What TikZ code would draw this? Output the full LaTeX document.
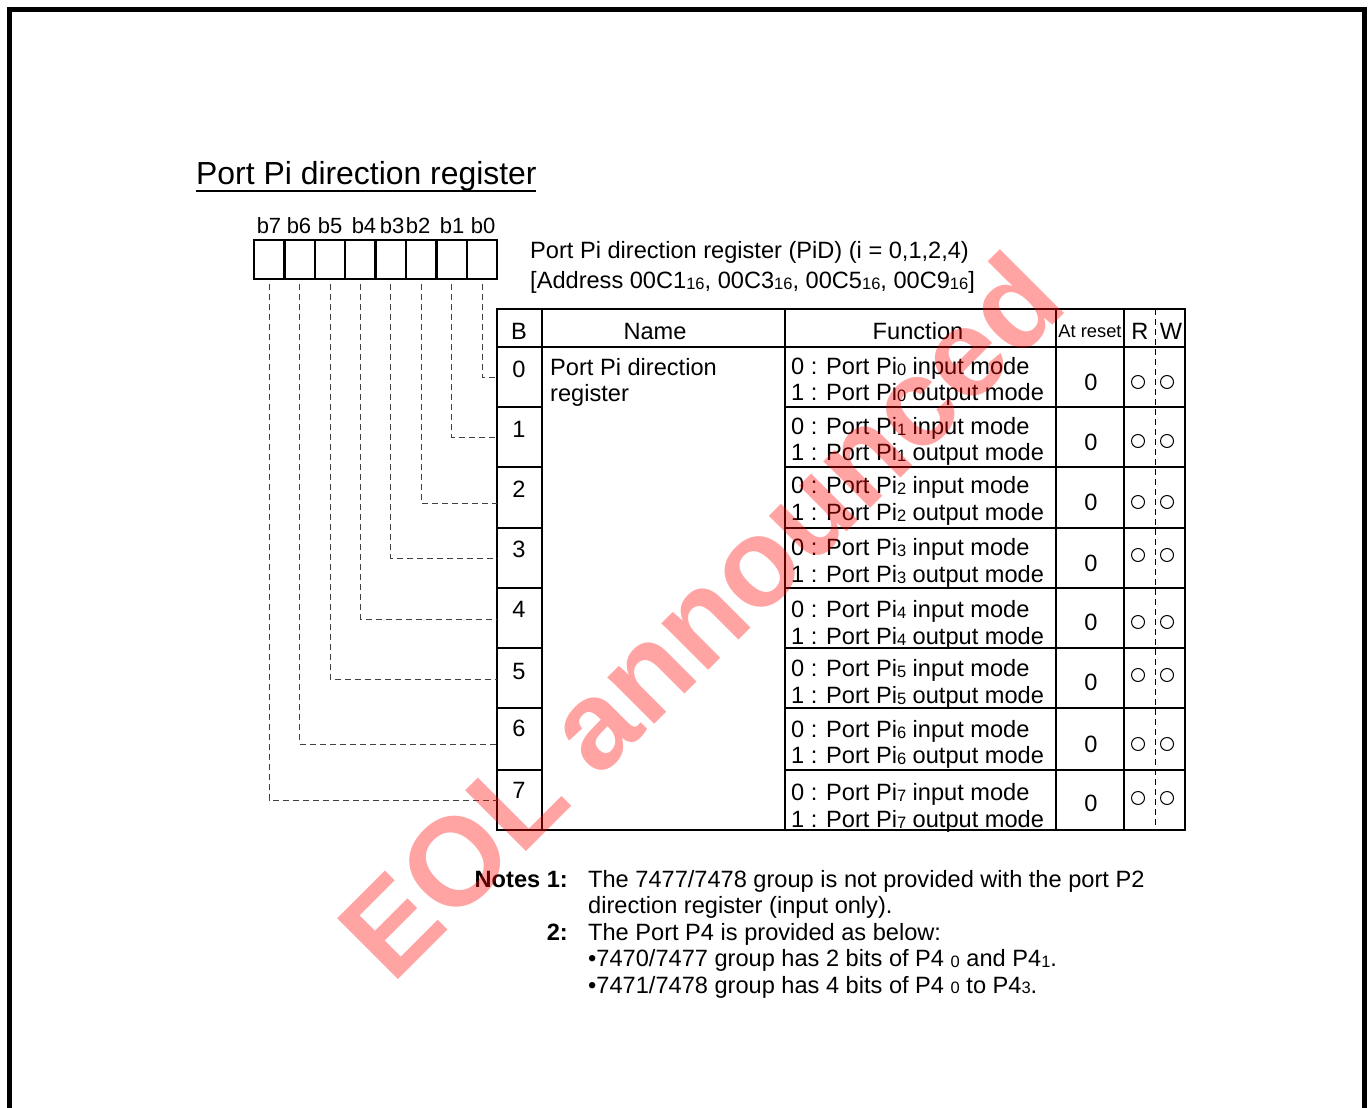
\documentclass[tikz,border=0pt]{standalone}
\usepackage{fontspec}
\setmainfont{Liberation Sans}
\newcommand\subd[1]{\raisebox{-0.5pt}{\fontsize{16.5}{16.5}\selectfont #1}}
\begin{document}
\begin{tikzpicture}[x=1pt,y=-1pt,
  txt/.style={anchor=base west,inner sep=0pt,font=\fontsize{23.6}{26}\selectfont},
  ctxt/.style={anchor=center,inner sep=0pt,font=\fontsize{23.6}{26}\selectfont},
  bitbox/.style={draw,line width=2.3pt,minimum width=30.4pt,minimum height=39pt,inner sep=0pt},
  bitlab/.style={anchor=center,inner sep=0pt,font=\fontsize{22}{22}\selectfont},
  tline/.style={line width=1.8pt},
  conn/.style={dashed,dash pattern=on 6pt off 4pt,line width=0.9pt,black!75},
  circ/.style={draw,circle,line width=1pt,minimum size=13pt,inner sep=0pt}]
\useasboundingbox (0,0) rectangle (1369,1108);
% frame
\draw[line width=5pt] (9.5,1110) -- (9.5,9.5) -- (1364.5,9.5) -- (1364.5,1110);
% title
\node[txt,font=\fontsize{31.9}{34}\selectfont] (title) at (196,184) {Port Pi direction register};
\draw[line width=1.8pt] (196,191) -- (536,191);
% bit boxes
\foreach \j/\k/\lx in {0/7/269,1/6/299,2/5/330,3/4/364,4/3/392,5/2/418,6/1/452,7/0/483}{
  \node[bitbox] (bit\k) at ({254+30.4*(\j+0.5)},259.5) {};
  \node[bitlab] (lb\k) at (\lx,226) {b\k};
}
% register description
\node[txt] (desc1) at (530,258.5) {Port Pi direction register (PiD) (i = 0,1,2,4)};
\node[txt] (desc2) at (530,288.5) {[Address 00C1\subd{16}, 00C3\subd{16}, 00C5\subd{16}, 00C9\subd{16}]};
% table grid
\draw[tline] (497,309) rectangle (1185,830);
\draw[tline] (497,347) -- (1185,347);
\foreach \x in {542,785,1056,1124}{\draw[tline] (\x,309) -- (\x,830);}
\draw[dashed,dash pattern=on 6pt off 4pt,line width=1pt] (1155,309) -- (1155,830);
\foreach \y in {407,467,528,588,648,708,770}{
  \draw[tline] (497,\y) -- (542,\y);
  \draw[tline] (785,\y) -- (1185,\y);
}
% header
\node[ctxt] (hB) at (519,331) {B};
\node[ctxt] (hName) at (655,331) {Name};
\node[ctxt] (hFunc) at (918,331) {Function};
\node[ctxt,font=\fontsize{18.3}{20}\selectfont] (hReset) at (1090,331) {At reset};
\node[ctxt] (hR) at (1140,331) {R};
\node[ctxt] (hW) at (1171,331) {W};
% name
\node[txt] (nm1) at (550,375) {Port Pi direction};
\node[txt] (nm2) at (550,401) {register};
% rows
\foreach \k/\by/\fa/\fb/\ry/\cy in {0/369/374.5/400.5/382/382,1/429/434.5/460.5/442/441,2/489/493.5/520.5/502/502,3/549/555.5/582.5/563/555,4/609/617.5/644.5/622/622,5/671/676.5/703.5/682/675,6/728/737.5/763.5/744/744,7/790/800.5/827.5/803/798}{
  \node[ctxt] (B\k) at (519,\by) {\k};
  \node[txt] (f\k a) at (791,\fa) {0 : Port Pi\subd{\k} input mode};
  \node[txt] (f\k b) at (791,\fb) {1 : Port Pi\subd{\k} output mode};
  \node[ctxt] (rs\k) at (1091,\ry) {0};
  \node[circ] (r\k) at (1138,\cy) {};
  \node[circ] (w\k) at (1167,\cy) {};
}
% connectors
\foreach \k/\y in {0/377,1/437,2/503,3/558,4/619,5/679,6/744,7/800}{
  \coordinate (t\k) at (497,\y);
  \draw[conn] ([yshift=-4pt]bit\k.south) |- (t\k);
}
% notes
\node[txt,anchor=base east,font=\bfseries\fontsize{23.6}{26}\selectfont] (n1) at (568,887) {Notes 1:};
\node[txt] (n1a) at (588,887) {The 7477/7478 group is not provided with the port P2};
\node[txt] (n1b) at (588,913) {direction register (input only).};
\node[txt,anchor=base east,font=\bfseries\fontsize{23.6}{26}\selectfont] (n2) at (568,940) {2:};
\node[txt] (n2a) at (588,940) {The Port P4 is provided as below:};
\node[txt] (n2b) at (588,966.5) {•7470/7477 group has 2 bits of P4 \subd{0} and P4\subd{1}.};
\node[txt] (n2c) at (588,993) {•7471/7478 group has 4 bits of P4 \subd{0} to P4\subd{3}.};
% watermark
\node[rotate=45,text=red,opacity=0.36,inner sep=0pt,font=\bfseries\fontsize{125}{125}\selectfont] (wm) at (700,615) {EOL announced};
\end{tikzpicture}
\end{document}
